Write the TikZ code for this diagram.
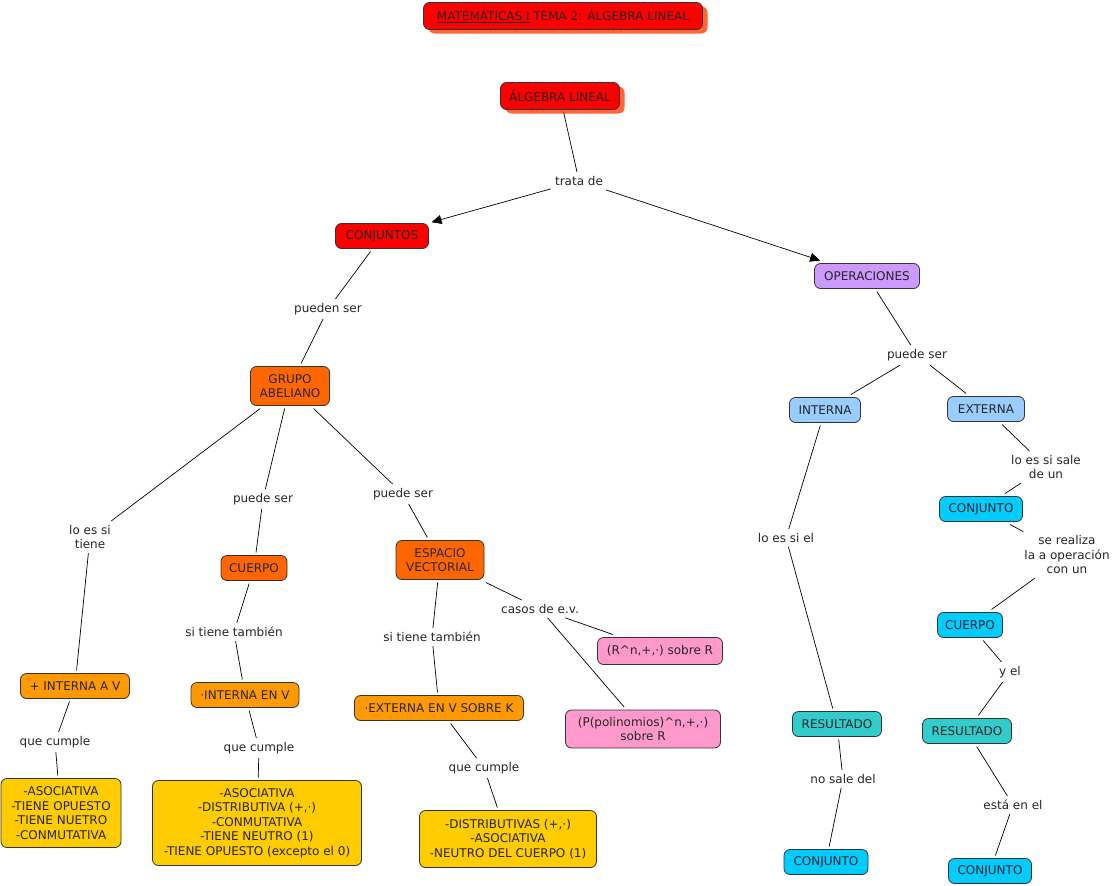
\documentclass[tikz,border=0pt]{standalone}
\usepackage{fontspec}
\setmainfont{DejaVu Sans}
\usetikzlibrary{shadows,arrows.meta}
\definecolor{cred}{HTML}{FF0000}
\definecolor{cshadow}{HTML}{FF6633}
\definecolor{corange}{HTML}{FF6600}
\definecolor{camber}{HTML}{FF9900}
\definecolor{cyellow}{HTML}{FFCC00}
\definecolor{cpink}{HTML}{FF99CC}
\definecolor{cpurple}{HTML}{CC99FF}
\definecolor{clblue}{HTML}{99CCFF}
\definecolor{ccyan}{HTML}{00CCFF}
\definecolor{cteal}{HTML}{33CCCC}
\begin{document}
\begin{tikzpicture}[x=1pt,y=-1pt,
  every node/.style={font=\fontsize{12}{14.5}\selectfont, align=center, text=black!85},
  box/.style={draw=black!80, rounded corners=6pt, line width=0.8pt, inner sep=2pt, outer sep=3pt, minimum height=25pt},
  shad/.style={drop shadow={shadow xshift=5pt, shadow yshift=-4pt, fill=cshadow, opacity=1}},
  lab/.style={inner sep=4pt},
  con/.style={line width=0.7pt},
  arr/.style={con, -{Triangle[length=10pt,width=9pt]}}]
\useasboundingbox (0,0) rectangle (1114,886);
\fill[white] (0,0) rectangle (1114,886);
% concepts
\node[box, shad, fill=cred, minimum width=279pt, minimum height=27pt] (title) at (563,16) {\underline{MATEMÁTICAS I} TEMA 2: ÁLGEBRA LINEAL};
\node[box, shad, fill=cred, minimum width=119pt, minimum height=27pt] (alg) at (560,96) {ÁLGEBRA LINEAL};
\node[box, fill=cred, minimum width=93pt] (conj) at (382,236) {CONJUNTOS};
\node[box, fill=cpurple, minimum width=105pt] (oper) at (867,276) {OPERACIONES};
\node[box, fill=corange, minimum width=79pt, minimum height=39pt] (grupo) at (290,386) {GRUPO\\ABELIANO};
\node[box, fill=clblue, minimum width=71pt] (interna) at (825,410) {INTERNA};
\node[box, fill=clblue, minimum width=77pt] (externa) at (986,409) {EXTERNA};
\node[box, fill=corange, minimum width=66pt] (cuerpo) at (254,568) {CUERPO};
\node[box, fill=corange, minimum width=88pt, minimum height=39pt] (espacio) at (440,560) {ESPACIO\\VECTORIAL};
\node[box, fill=camber, minimum width=109pt] (intav) at (75,686) {+ INTERNA A V};
\node[box, fill=camber, minimum width=108pt] (intenv) at (245,695) {·INTERNA EN V};
\node[box, fill=camber, minimum width=169pt] (extenv) at (439,708) {·EXTERNA EN V SOBRE K};
\node[box, fill=cpink, minimum width=125pt, minimum height=27pt] (rn) at (660,651) {(R\textasciicircum n,+,·) sobre R};
\node[box, fill=cpink, minimum width=155pt, minimum height=38pt] (pol) at (643,729) {(P(polinomios)\textasciicircum n,+,·)\\sobre R};
\node[box, fill=cyellow, minimum width=120pt, minimum height=69pt] (prop1) at (61,813) {-ASOCIATIVA\\-TIENE OPUESTO\\-TIENE NUETRO\\-CONMUTATIVA};
\node[box, fill=cyellow, minimum width=209pt, minimum height=85pt] (prop2) at (257,823) {-ASOCIATIVA\\-DISTRIBUTIVA (+,·)\\-CONMUTATIVA\\-TIENE NEUTRO (1)\\-TIENE OPUESTO (excepto el 0)};
\node[box, fill=cyellow, minimum width=177pt, minimum height=57pt] (prop3) at (508,839) {-DISTRIBUTIVAS (+,·)\\-ASOCIATIVA\\-NEUTRO DEL CUERPO (1)};
\node[box, fill=ccyan, minimum width=83pt] (conjr) at (981,509) {CONJUNTO};
\node[box, fill=ccyan, minimum width=65pt] (cuerpor) at (970,625) {CUERPO};
\node[box, fill=cteal, minimum width=89pt] (resl) at (837,724) {RESULTADO};
\node[box, fill=cteal, minimum width=89pt] (resr) at (967,731) {RESULTADO};
\node[box, fill=ccyan, minimum width=84pt] (conjbl) at (826,862) {CONJUNTO};
\node[box, fill=ccyan, minimum width=83pt] (conjbr) at (990,871) {CONJUNTO};
% linking phrases
\node[lab] (trata) at (579,181) {trata de};
\node[lab] (pueden) at (328,309) {pueden ser};
\node[lab] (puedeop) at (917,355) {puede ser};
\node[lab] (loestiene) at (90,537) {lo es si\\tiene};
\node[lab] (puedec) at (263,499) {puede ser};
\node[lab] (puedee) at (403,494) {puede ser};
\node[lab] (sitiene1) at (234,632) {si tiene también};
\node[lab] (sitiene2) at (432,637) {si tiene también};
\node[lab] (casos) at (540,609) {casos de e.v.};
\node[lab] (qc1) at (55,742) {que cumple};
\node[lab] (qc2) at (259,748) {que cumple};
\node[lab] (qc3) at (484,768) {que cumple};
\node[lab] (loessiel) at (786,538) {lo es si el};
\node[lab] (loessale) at (1046,467) {lo es si sale\\de un};
\node[lab] (serealiza) at (1067,555) {se realiza\\la a operación\\con un};
\node[lab] (yel) at (1010,672) {y el};
\node[lab] (nosale) at (843,779) {no sale del};
\node[lab] (estaen) at (1013,805) {está en el};
% connectors
\draw[con] (alg) -- (trata);
\draw[arr] (trata) -- (conj);
\draw[arr] (trata) -- (oper);
\draw[con] (conj) -- (pueden);
\draw[con] (pueden) -- (grupo);
\draw[con] (grupo) -- (loestiene);
\draw[con] (loestiene) -- (intav);
\draw[con] (grupo) -- (puedec);
\draw[con] (puedec) -- (cuerpo);
\draw[con] (grupo) -- (puedee);
\draw[con] (puedee) -- (espacio);
\draw[con] (cuerpo) -- (sitiene1);
\draw[con] (sitiene1) -- (intenv);
\draw[con] (espacio) -- (sitiene2);
\draw[con] (sitiene2) -- (extenv);
\draw[con] (espacio) -- (casos);
\draw[con] (casos) -- (rn);
\draw[con] (casos) -- (pol);
\draw[con] (intav) -- (qc1);
\draw[con] (qc1) -- (prop1);
\draw[con] (intenv) -- (qc2);
\draw[con] (qc2) -- (prop2);
\draw[con] (extenv) -- (qc3);
\draw[con] (qc3) -- (prop3);
\draw[con] (oper) -- (puedeop);
\draw[con] (puedeop) -- (interna);
\draw[con] (puedeop) -- (externa);
\draw[con] (interna) -- (loessiel);
\draw[con] (loessiel) -- (resl);
\draw[con] (externa) -- (loessale);
\draw[con] (loessale) -- (conjr);
\draw[con] (conjr) -- (serealiza);
\draw[con] (serealiza) -- (cuerpor);
\draw[con] (cuerpor) -- (yel);
\draw[con] (yel) -- (resr);
\draw[con] (resl) -- (nosale);
\draw[con] (nosale) -- (conjbl);
\draw[con] (resr) -- (estaen);
\draw[con] (estaen) -- (conjbr);
\end{tikzpicture}
\end{document}
